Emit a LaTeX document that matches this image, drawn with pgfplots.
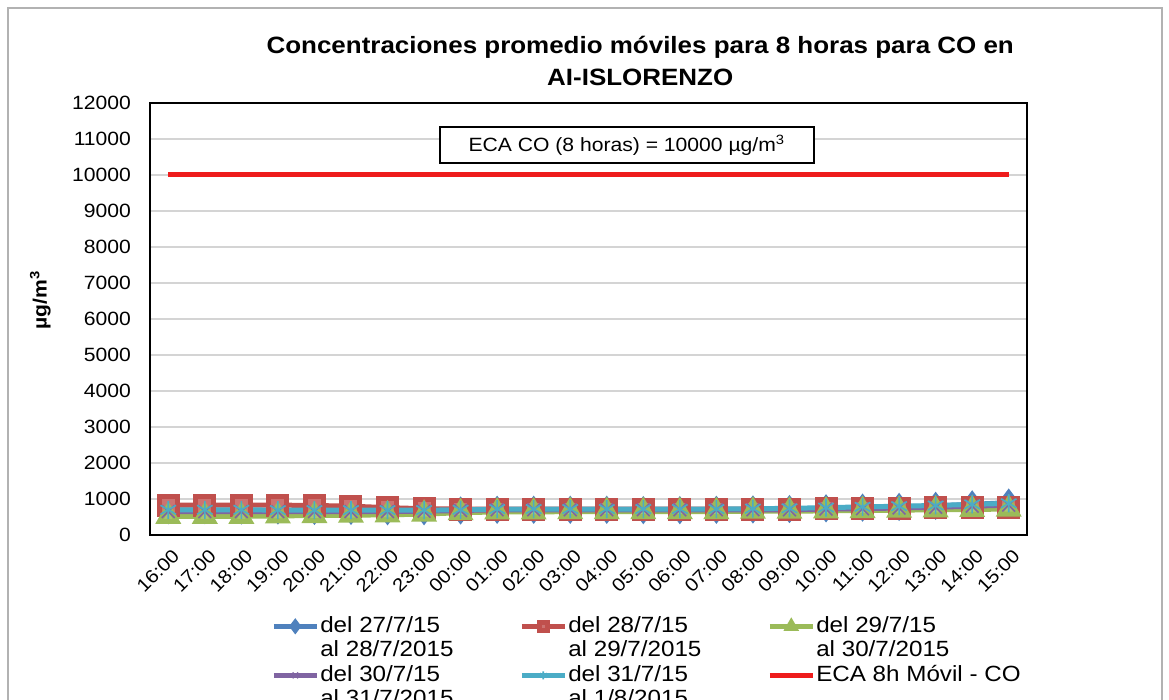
\documentclass[border=0pt]{standalone}
\usepackage{fontspec}
\setmainfont{Liberation Sans}[FakeStretch=1.1]
\usepackage{pgfplots}
\pgfplotsset{compat=1.18}
\definecolor{sA}{HTML}{4F81BD}
\definecolor{sB}{HTML}{C0504D}
\definecolor{sC}{HTML}{9BBB59}
\definecolor{sD}{HTML}{8064A2}
\definecolor{sE}{HTML}{4BACC6}
\definecolor{eca}{HTML}{EE1C1C}
\definecolor{gridc}{HTML}{D4D4D4}
\begin{document}
\begin{tikzpicture}
\useasboundingbox (0pt,0pt) rectangle (584.5pt,350pt);
\fill[white] (0pt,0pt) rectangle (584.5pt,350pt);
\draw[gray!60, line width=0.6pt] (4pt,-5pt) -- (4pt,346pt) -- (581pt,346pt) -- (581pt,-5pt);
\begin{axis}[
  at={(75pt,82.5pt)}, anchor=south west,
  scale only axis, width=438.5pt, height=216pt,
  xmin=-0.5, xmax=23.5, ymin=0, ymax=12000,
  ytick={0,1000,...,12000},
  scaled y ticks=false,
  xtick={0,...,23},
  xticklabels={16:00,17:00,18:00,19:00,20:00,21:00,22:00,23:00,00:00,01:00,02:00,03:00,04:00,05:00,06:00,07:00,08:00,09:00,10:00,11:00,12:00,13:00,14:00,15:00},
  major tick length=0pt,
  ymajorgrids, grid style={gridc, line width=0.6pt},
  axis line style={black, line width=1pt},
  /pgf/number format/assume math mode=true,
  /pgf/number format/1000 sep={},
  ticklabel style={font=\fontsize{9.6}{11}\selectfont},
  yticklabel style={xshift=-6pt},
  xticklabel style={rotate=45, anchor=east, xshift=0pt, yshift=-9pt, font=\fontsize{9.3}{11}\selectfont},
  ylabel={\textbf{µg/m\textsuperscript{3}}},
  ylabel style={font=\fontsize{9.6}{11}\selectfont, at={(axis description cs:-0.125,0.544)}, anchor=center, rotate=0},
  title={\textbf{Concentraciones promedio móviles para 8 horas para CO en}\\\textbf{AI-ISLORENZO}},
  title style={font=\fontsize{11.8}{16}\selectfont, align=center, at={(axis description cs:0.559,1)}, anchor=south, yshift=-1pt},
  legend columns=3,
  legend style={draw=none, at={(axis description cs:0.131,-0.17)}, anchor=north west,
    font=\fontsize{11}{11.8}\selectfont, cells={anchor=west}, row sep=11pt,
    nodes={inner xsep=0.5pt},
    /tikz/every even column/.append style={column sep=0pt}},
  legend image code/.code={\draw[mark size=2pt, mark repeat=2, mark phase=2] plot coordinates {(0pt,0pt) (10.75pt,0pt) (21.5pt,0pt)};},
  every axis plot/.append style={line width=2.5pt, mark options={solid, line width=0.8pt}},
]
\addplot[sA, mark=diamond*, mark size=5pt, mark options={fill=sA!70}] coordinates {
(0,690)(1,690)(2,680)(3,680)(4,670)(5,670)(6,660)(7,660)(8,680)(9,700)(10,700)(11,700)(12,700)(13,690)(14,690)(15,700)(16,710)(17,720)(18,740)(19,760)(20,780)(21,810)(22,850)(23,900)};
\addlegendentry{\parbox[t]{99pt}{del 27/7/15\\al 28/7/2015}}
\addplot[sB, mark=square*, mark size=4.5pt, mark options={fill=sB!80}] coordinates {
(0,830)(1,830)(2,830)(3,830)(4,820)(5,800)(6,760)(7,730)(8,720)(9,720)(10,720)(11,720)(12,720)(13,720)(14,720)(15,720)(16,720)(17,720)(18,730)(19,740)(20,740)(21,750)(22,760)(23,760)};
\addlegendentry{\parbox[t]{99pt}{del 28/7/15\\al 29/7/2015}}
\addplot[sC, mark=triangle*, mark size=5pt, mark options={fill=sC!85}] coordinates {
(0,520)(1,520)(2,520)(3,530)(4,540)(5,550)(6,560)(7,580)(8,620)(9,640)(10,640)(11,650)(12,650)(13,650)(14,650)(15,650)(16,660)(17,660)(18,670)(19,680)(20,690)(21,700)(22,710)(23,720)};
\addlegendentry{\parbox[t]{99pt}{del 29/7/15\\al 30/7/2015}}
\addplot[sD, mark=x, mark size=4.5pt] coordinates {
(0,650)(1,650)(2,650)(3,650)(4,650)(5,650)(6,650)(7,660)(8,680)(9,700)(10,700)(11,700)(12,700)(13,700)(14,700)(15,700)(16,700)(17,700)(18,720)(19,730)(20,750)(21,770)(22,800)(23,830)};
\addlegendentry{\parbox[t]{99pt}{del 30/7/15\\al 31/7/2015}}
\addplot[sE, mark=asterisk, mark size=4.5pt] coordinates {
(0,700)(1,700)(2,700)(3,690)(4,690)(5,690)(6,690)(7,690)(8,700)(9,720)(10,720)(11,720)(12,720)(13,720)(14,720)(15,720)(16,730)(17,740)(18,760)(19,780)(20,800)(21,820)(22,850)(23,880)};
\addlegendentry{\parbox[t]{99pt}{del 31/7/15\\al 1/8/2015}}
\addplot[eca, no marks, line width=2.5pt] coordinates {(0,10000)(23,10000)};
\addlegendentry{ECA 8h Móvil - CO}
\node[draw=black, line width=0.8pt, fill=white, minimum width=187pt, minimum height=18pt, font=\fontsize{9.6}{11}\selectfont] at (axis cs:12.55,10830) {ECA CO (8 horas) = 10000 µg/m\textsuperscript{3}};
\end{axis}
\end{tikzpicture}
\end{document}
